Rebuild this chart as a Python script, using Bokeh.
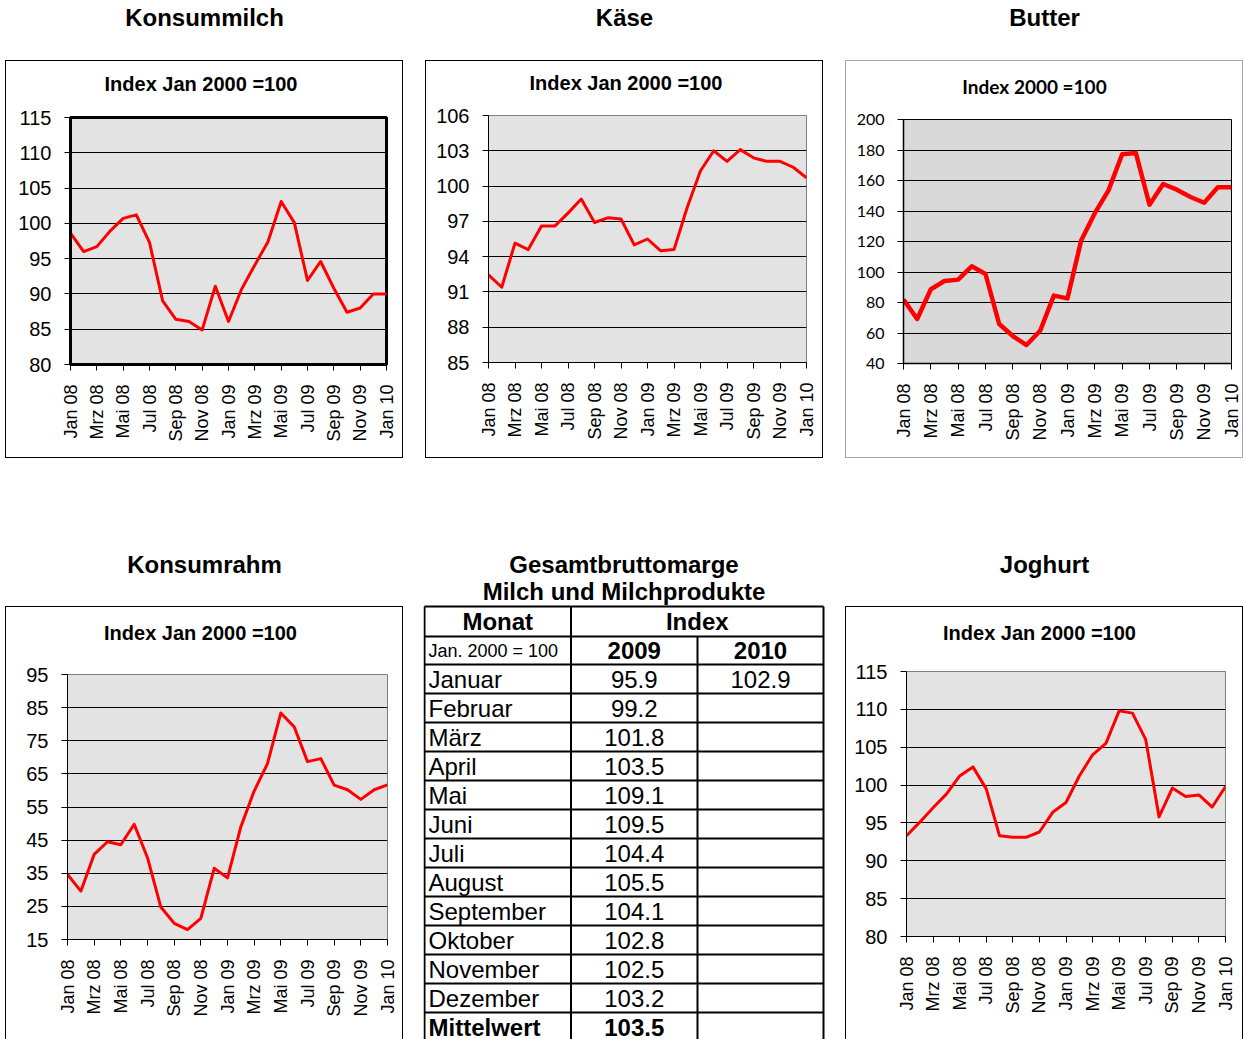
import math
from bokeh.plotting import figure
from bokeh.models import Range1d, FixedTicker, Spacer
from bokeh.layouts import row, column
from bokeh.core.properties import value
from bokeh.embed import file_html
from bokeh.resources import INLINE

# ---------------- data ----------------
months = ["Jan 08", "Feb 08", "Mrz 08", "Apr 08", "Mai 08", "Jun 08", "Jul 08", "Aug 08",
          "Sep 08", "Okt 08", "Nov 08", "Dez 08", "Jan 09", "Feb 09", "Mrz 09", "Apr 09",
          "Mai 09", "Jun 09", "Jul 09", "Aug 09", "Sep 09", "Okt 09", "Nov 09", "Dez 09", "Jan 10"]
tick_labels = ["Jan 08", "Mrz 08", "Mai 08", "Jul 08", "Sep 08", "Nov 08", "Jan 09",
               "Mrz 09", "Mai 09", "Jul 09", "Sep 09", "Nov 09", "Jan 10"]

konsummilch = [98.6, 96.0, 96.7, 98.9, 100.7, 101.2, 97.3, 89.0, 86.4, 86.1, 84.9, 91.1, 86.1,
               90.7, 94.1, 97.4, 103.1, 100.1, 91.9, 94.6, 90.8, 87.4, 88.0, 90.0, 90.0]
kaese = [92.45, 91.4, 95.15, 94.6, 96.6, 96.6, 97.7, 98.9, 96.9, 97.3, 97.2, 95.0, 95.5,
         94.5, 94.6, 98.2, 101.3, 103.0, 102.1, 103.1, 102.4, 102.1, 102.1, 101.6, 100.7]
butter = [81.9, 69.2, 88.7, 94.1, 95.0, 103.8, 98.7, 65.9, 58.0, 52.1, 61.5, 84.5, 82.7,
          120.7, 138.6, 153.5, 177.2, 178.1, 144.1, 157.7, 154.0, 149.2, 145.4, 155.5, 155.5]
konsumrahm = [34.65, 29.6, 40.7, 44.5, 43.6, 49.8, 39.7, 24.8, 19.9, 18.0, 21.4, 36.5, 33.6,
              49.0, 59.8, 68.1, 83.4, 79.2, 68.7, 69.6, 61.6, 60.2, 57.3, 60.2, 61.7]
joghurt = [93.3, 95.1, 97.0, 98.8, 101.2, 102.4, 99.5, 93.3, 93.1, 93.1, 93.8, 96.4, 97.7,
           101.2, 104.0, 105.5, 109.8, 109.5, 106.0, 95.8, 99.6, 98.5, 98.7, 97.1, 99.8]

ticks_milch = [80, 85, 90, 95, 100, 105, 110, 115]
ticks_kaese = [85, 88, 91, 94, 97, 100, 103, 106]
ticks_butter = [40, 60, 80, 100, 120, 140, 160, 180, 200]
ticks_rahm = [15, 25, 35, 45, 55, 65, 75, 85, 95]
ticks_jog = [80, 85, 90, 95, 100, 105, 110, 115]

top_titles = ["Konsummilch", "Käse", "Butter"]
subtitle_jan = "Index Jan 2000 =100"
subtitle_2000 = "Index 2000 =100"

table_title = ["Gesamtbruttomarge", "Milch und Milchprodukte"]
table_months = ["Januar", "Februar", "März", "April", "Mai", "Juni", "Juli", "August",
                "September", "Oktober", "November", "Dezember"]
index_2009 = [95.9, 99.2, 101.8, 103.5, 109.1, 109.5, 104.4, 105.5, 104.1, 102.8, 102.5, 103.2]
index_2010 = [102.9]
mittelwert_2009 = 103.5

ARIAL = "Liberation Sans"
BOXW = 396


def blank(w, h, left=0, right=0):
    f = figure(width=w, height=h, x_range=Range1d(0, w - left - right), y_range=Range1d(h, 0),
               output_backend="svg", toolbar_location=None, min_border=0,
               min_border_left=left, min_border_right=right,
               outline_line_color=None, x_axis_location=None, y_axis_location=None,
               background_fill_color="white", border_fill_color="white")
    f.grid.visible = False
    return f


def put_text(f, xs, ys, texts, size, bold=False, align="center", font=ARIAL):
    f.text(x=xs, y=ys, text=texts, text_font=value(font),
           text_font_style="bold" if bold else "normal", text_font_size=size,
           text_align=align, text_baseline="middle", text_color="black")


def make_chart(values, ticks, h, left, right, top, bottom, bg, line_w,
               outline_color, outline_w, axis_w, ylab_font, ylab_size):
    p = figure(width=BOXW, height=h, x_range=Range1d(0, len(values) - 1),
               y_range=Range1d(ticks[0], ticks[-1]), output_backend="svg",
               toolbar_location=None, min_border_left=left, min_border_right=right,
               min_border_top=top, min_border_bottom=bottom,
               background_fill_color=bg, border_fill_color="white",
               outline_line_color=outline_color, outline_line_width=outline_w)
    p.line(x=list(range(len(values))), y=values, line_color="#ff0000", line_width=line_w,
           line_join="round")
    xt = list(range(0, len(values), 2))
    p.xaxis.ticker = FixedTicker(ticks=xt)
    p.xaxis.major_label_overrides = {t: lab for t, lab in zip(xt, tick_labels)}
    p.xaxis.major_label_orientation = math.pi / 2
    p.xaxis.major_label_text_font = ARIAL
    p.xaxis.major_label_text_font_size = "18px"
    p.xaxis.major_label_standoff = 14
    p.yaxis.ticker = FixedTicker(ticks=ticks)
    p.yaxis.major_label_text_font = ylab_font
    p.yaxis.major_label_text_font_size = ylab_size
    p.yaxis.major_label_standoff = 13
    for ax in (p.xaxis, p.yaxis):
        ax.major_label_text_color = "black"
        ax.major_tick_out = 6
        ax.major_tick_in = 0
        ax.major_tick_line_color = "black"
        ax.minor_tick_line_color = None
        ax.axis_line_color = "black"
        ax.axis_line_width = axis_w
    p.xgrid.visible = False
    p.ygrid.ticker = FixedTicker(ticks=ticks[1:-1])
    p.ygrid.grid_line_color = "black"
    p.ygrid.grid_line_width = 1
    return p


def sub_fig(h, left, right, xc, y, text, font=ARIAL, size="20px"):
    # frame of the subtitle strip matches the chart frame below it;
    # xc is measured from the box's left edge
    f = blank(BOXW, h, left, right)
    put_text(f, [xc - left], [y], [text], size, bold=True, font=font)
    return f


BOX = "0 0 0 1px #000000"
BOX_GRAY = "0 0 0 1px #a6a6a6"
OPEN = ("-1px 0 0 0 #000000, 1px 0 0 0 #000000, 0 -1px 0 0 #000000, "
        "-1px -1px 0 0 #000000, 1px -1px 0 0 #000000")

# ---------------- top row ----------------
strip = blank(1242, 60)
put_text(strip, [204, 624, 1044], [17, 17, 17], top_titles, "24px", bold=True)

c1 = make_chart(konsummilch, ticks_milch, 350, 64, 16, 10, 93, "#e3e3e3", 3,
                "black", 3, 3, ARIAL, "20px")
b1 = column(sub_fig(46, 64, 16, 194.5, 22, subtitle_jan), c1, styles={"box-shadow": BOX})

c2 = make_chart(kaese, ticks_kaese, 352, 62, 16, 10, 95, "#e3e3e3", 3,
                "#808080", 1, 1, ARIAL, "20px")
b2 = column(sub_fig(44, 62, 16, 199.5, 21, subtitle_jan), c2, styles={"box-shadow": BOX})

c3 = make_chart(butter, ticks_butter, 348, 57, 11, 10, 94, "#d9d9d9", 4.5,
                "#000000", 1, 1.5, "Lato", "16px")
b3 = column(sub_fig(48, 57, 11, 188, 25, subtitle_2000, font="Lato", size="19px"), c3,
            styles={"box-shadow": BOX_GRAY})

top_row = row(Spacer(width=6, height=396), b1, Spacer(width=24, height=396), b2,
              Spacer(width=24, height=396), b3)

# ---------------- bottom row ----------------
t4 = blank(BOXW, 148)
put_text(t4, [198], [106], ["Konsumrahm"], "24px", bold=True)
c4 = make_chart(konsumrahm, ticks_rahm, 375, 61, 15, 10, 100, "#e3e3e3", 3,
                "#808080", 1, 1, ARIAL, "20px")
b4 = column(sub_fig(57, 61, 15, 194, 25, subtitle_jan), c4, styles={"box-shadow": OPEN})

t6 = blank(BOXW, 148)
put_text(t6, [198], [106], ["Joghurt"], "24px", bold=True)
c6 = make_chart(joghurt, ticks_jog, 378, 60, 17, 10, 103, "#e3e3e3", 3,
                "#808080", 1, 1, ARIAL, "20px")
b6 = column(sub_fig(54, 60, 17, 193, 25, subtitle_jan), c6, styles={"box-shadow": OPEN})

# table
TW, TH = 402, 581
tbl = blank(TW, TH)
put_text(tbl, [200.5, 200.5], [106, 133], table_title, "24px", bold=True)

head_top, head1, head2, row_h = 148, 30, 28, 29
body_top = head_top + head1 + head2
col_x = [1, 147.5, 274, 400]
n_rows = len(table_months) + 1
hlines = [head_top, head_top + head1, body_top] + [body_top + row_h * (k + 1) for k in range(n_rows - 1)]
tbl.segment(x0=[col_x[0]] * len(hlines), x1=[col_x[-1]] * len(hlines), y0=hlines, y1=hlines,
            line_color="black", line_width=2)
tbl.segment(x0=col_x, x1=col_x, y0=[head_top, head_top, head_top + head1, head_top],
            y1=[TH] * 4, line_color="black", line_width=2)

c1x = (col_x[0] + col_x[1]) / 2
c2x = (col_x[1] + col_x[2]) / 2
c3x = (col_x[2] + col_x[3]) / 2
cidx = (col_x[1] + col_x[3]) / 2
left_x = col_x[0] + 4

put_text(tbl, [c1x, cidx], [head_top + head1 / 2] * 2, ["Monat", "Index"], "24px", bold=True)
put_text(tbl, [left_x], [head_top + head1 + head2 / 2], ["Jan. 2000 = 100"], "18px", align="left")
put_text(tbl, [c2x, c3x], [head_top + head1 + head2 / 2] * 2, ["2009", "2010"], "24px", bold=True)

row_mid = [body_top + row_h * k + row_h / 2 for k in range(len(table_months))]
put_text(tbl, [left_x] * len(table_months), row_mid, table_months, "24px", align="left")
put_text(tbl, [c2x] * len(index_2009), row_mid[:len(index_2009)],
         ["%.1f" % v for v in index_2009], "24px")
put_text(tbl, [c3x] * len(index_2010), row_mid[:len(index_2010)],
         ["%.1f" % v for v in index_2010], "24px")
mw_mid = body_top + row_h * len(table_months) + row_h / 2
put_text(tbl, [left_x], [mw_mid], ["Mittelwert"], "24px", bold=True, align="left")
put_text(tbl, [c2x], [mw_mid], ["%.1f" % mittelwert_2009], "24px", bold=True)

bottom_row = row(Spacer(width=6, height=TH),
                 column(t4, Spacer(width=BOXW, height=1), b4),
                 Spacer(width=21, height=TH), tbl, Spacer(width=21, height=TH),
                 column(t6, Spacer(width=BOXW, height=1), b6))

layout = column(strip, Spacer(width=1242, height=1), top_row,
                Spacer(width=1242, height=1), bottom_row)

open("out.html", "w").write(file_html(layout, INLINE))
